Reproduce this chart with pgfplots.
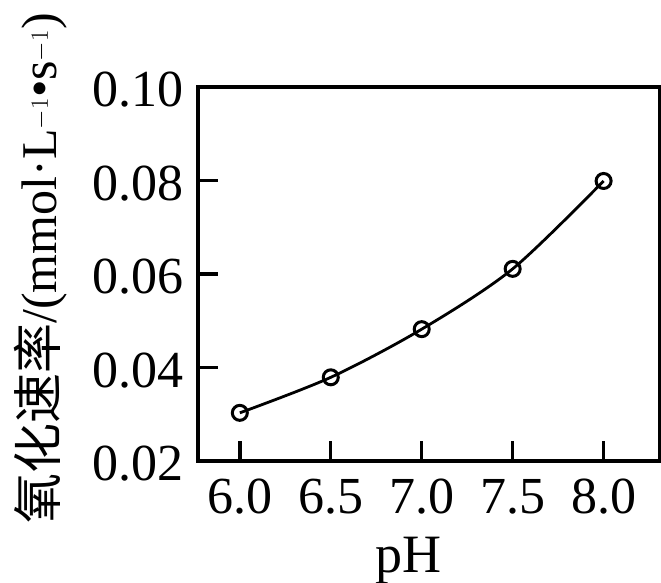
\documentclass[border=0pt]{standalone}
\usepackage{pgfplots}
\pgfplotsset{compat=1.18}
\usepackage{fontspec}
\setmainfont{Liberation Serif}
\newfontfamily\cjk{Noto Sans CJK SC}
\begin{document}
\begin{tikzpicture}
\begin{axis}[
  name=ax,
  at={(0,0)}, anchor=south west,
  scale only axis,
  width=462pt, height=374pt,
  xmin=5.77, xmax=8.31,
  ymin=0.02, ymax=0.10,
  xtick={6,6.5,7,7.5,8},
  ytick={0.02,0.04,0.06,0.08,0.10},
  line width=3.4pt,
  every tick/.style={black, line width=3.4pt},
  major tick length=20pt,
  tick align=inside,
  xtick pos=left, ytick pos=left,
  /pgf/number format/assume math mode=true,
  xticklabel style={/pgf/number format/.cd, fixed, fixed zerofill, precision=1, /tikz/.cd,
     anchor=base, yshift=-52pt, font=\fontsize{52}{60}\selectfont},
  yticklabel style={/pgf/number format/.cd, fixed, fixed zerofill, precision=2, /tikz/.cd,
     anchor=east, inner sep=0pt, xshift=-13pt, yshift=-3pt, font=\fontsize{52}{60}\selectfont},
  xlabel={pH},
  xlabel style={at={(axis description cs:0.455,0)}, anchor=base, yshift=-111pt, font=\fontsize{54}{60}\selectfont},
  ylabel={{\fontsize{50}{58}\selectfont\cjk 氧化速率}/(mmol·L$^{-1}$•s$^{-1}$)},
  ylabel style={at={(axis description cs:0,0.515)}, anchor=center, yshift=157pt, font=\fontsize{50}{58}\selectfont},
]
\addplot[black, line width=2.8pt, smooth, tension=0.5,
  mark=o, mark size=7.5pt, mark options={line width=3pt, fill=white}]
  coordinates {(6.0,0.0303) (6.5,0.0379) (7.0,0.0482) (7.5,0.0611) (8.0,0.0799)};
\end{axis}
\pgfresetboundingbox
\path ([xshift=-198pt,yshift=-122pt]ax.south west) rectangle ([xshift=1pt,yshift=87pt]ax.north east);
\end{tikzpicture}
\end{document}
